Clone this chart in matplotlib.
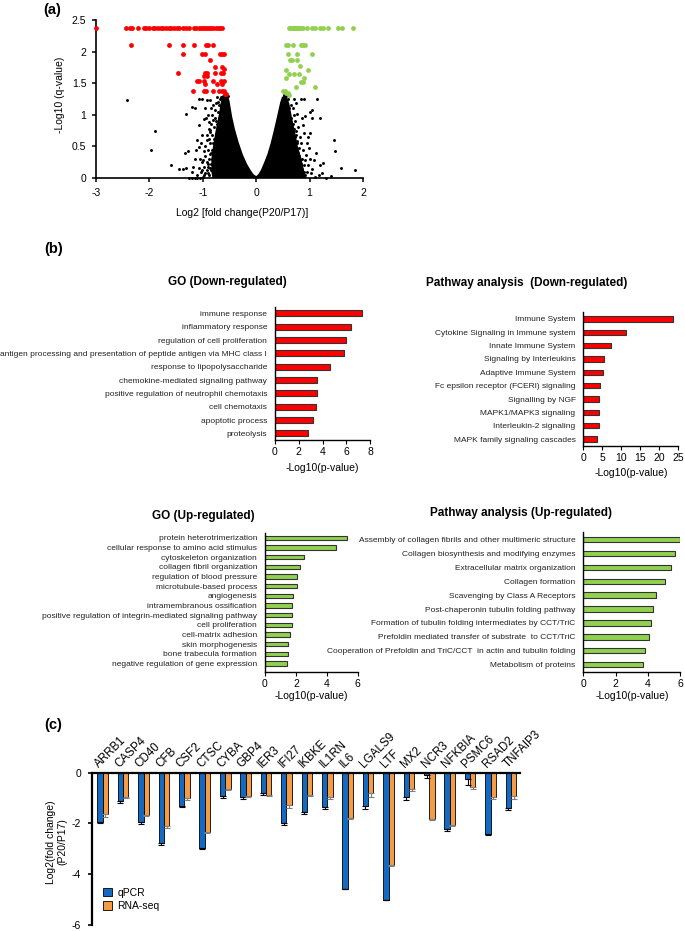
import matplotlib.pyplot as plt
from matplotlib.patches import Patch
from matplotlib.transforms import blended_transform_factory

W, H = 685, 931

# ---------------- (a) volcano ----------------
red_points = [
    (-3.0, 2.37), (-2.44, 2.37), (-2.36, 2.37), (-2.32, 2.37), (-2.21, 2.37), (-2.11, 2.37),
    (-2.06, 2.37), (-2.01, 2.37), (-1.94, 2.37), (-1.89, 2.37), (-1.84, 2.37), (-1.79, 2.37),
    (-1.74, 2.37), (-1.69, 2.37), (-1.64, 2.37), (-1.60, 2.37), (-1.54, 2.37), (-1.49, 2.37),
    (-1.44, 2.37), (-1.38, 2.37), (-1.32, 2.37), (-1.26, 2.37), (-1.17, 2.37), (-1.12, 2.37),
    (-1.08, 2.37), (-1.04, 2.37), (-1.00, 2.37), (-0.96, 2.37), (-0.92, 2.37), (-0.88, 2.37),
    (-0.84, 2.37), (-0.80, 2.37), (-0.76, 2.37), (-0.72, 2.37), (-0.68, 2.37), (-0.64, 2.37),
    (-2.34, 2.11), (-1.64, 2.11), (-1.37, 2.11), (-1.17, 2.11), (-0.94, 2.11), (-0.90, 2.11),
    (-0.80, 2.11),
    (-1.38, 1.96), (-1.02, 1.96), (-0.96, 1.96), (-0.67, 1.96), (-0.64, 1.96), (-0.60, 1.96),
    (-0.86, 1.86), (-0.77, 1.76), (-0.64, 1.76), (-0.60, 1.72),
    (-1.46, 1.66), (-0.95, 1.66), (-0.92, 1.66), (-0.78, 1.66), (-0.65, 1.66), (-0.62, 1.66),
    (-0.98, 1.62), (-0.92, 1.62),
    (-1.10, 1.53), (-1.07, 1.53), (-0.98, 1.53), (-0.81, 1.53), (-0.65, 1.53), (-0.61, 1.53),
    (-0.96, 1.48), (-0.73, 1.48), (-0.64, 1.48),
    (-1.19, 1.37), (-0.98, 1.37), (-0.94, 1.37), (-0.80, 1.37), (-0.70, 1.37), (-0.64, 1.37),
    (-0.61, 1.37), (-0.59, 1.33), (-0.56, 1.33),
]

green_points = [
    (0.62, 2.37), (0.64, 2.37), (0.66, 2.37), (0.68, 2.37), (0.70, 2.37), (0.72, 2.37),
    (0.74, 2.37), (0.76, 2.37), (0.78, 2.37), (0.80, 2.37), (0.82, 2.37), (0.84, 2.37),
    (0.87, 2.37), (0.95, 2.37), (1.05, 2.37), (1.11, 2.37), (1.20, 2.37), (1.26, 2.37),
    (1.34, 2.37), (1.54, 2.37), (1.60, 2.37), (1.81, 2.37),
    (0.56, 2.11), (0.59, 2.11), (0.68, 2.11), (0.84, 2.11), (0.88, 2.11), (0.91, 2.11),
    (0.59, 1.96), (0.77, 1.96), (1.05, 1.96),
    (0.63, 1.86), (0.67, 1.86), (0.77, 1.86), (0.82, 1.78),
    (0.55, 1.71), (0.97, 1.71), (0.62, 1.64), (0.70, 1.64), (0.80, 1.64),
    (0.55, 1.58), (0.90, 1.58), (0.84, 1.52), (0.87, 1.52),
    (0.74, 1.44), (1.10, 1.44), (0.50, 1.38), (0.53, 1.38), (0.56, 1.34), (0.59, 1.34),
    (0.61, 1.31),
]

black_points = [
    (-2.42, 1.24), (-1.97, 0.45), (-1.90, 0.75), (-1.60, 0.21), (-1.33, 0.40), (-1.32, 1.02),
    (-1.27, 0.43), (-1.20, 1.13), (-1.18, 0.18), (-1.14, 1.10), (-1.12, 0.44), (-1.07, 1.25),
    (-1.07, 0.84), (-1.07, 0.49), (-1.04, 0.56), (-1.01, 1.25), (-1.01, 0.68), (-0.99, 0.28),
    (-0.98, 0.94), (-0.95, 1.10), (-0.92, 1.24), (-0.92, 0.60), (-0.92, 0.26), (-0.89, 0.89),
    (-0.86, 1.24), (-0.86, 0.76), (-0.86, 0.72), (-0.83, 1.00), (-0.80, 1.15), (-0.80, 0.16),
    (-0.77, 0.58), (-0.74, 1.28), (-0.75, 1.18), (-1.07, 0.16), (-1.01, 0.26), (-1.04, 0.10),
    (-1.32, 0.16), (-1.38, 0.15), (-1.44, 0.15), (-1.25, 0.0), (-1.20, 0.0), (-1.15, 0.0),
    (-1.10, 0.0), (-1.05, 0.0), (-1.00, 0.02), (-1.10, 0.05), (-0.96, 0.35), (-0.90, 0.45),
    (-0.95, 0.50), (-0.88, 0.62), (-0.84, 0.85), (-0.90, 1.00), (-0.82, 0.30), (-0.85, 0.12),
    (-0.90, 0.18), (-0.78, 0.95), (-0.70, 1.15), (-0.68, 1.25), (-0.72, 1.05), (-0.84, 0.40),
    (-0.87, 0.55), (-0.83, 0.68), (-0.79, 0.80), (-0.76, 0.90), (-0.88, 0.05), (-0.95, 0.08),
    (-0.65, 1.28), (-0.62, 1.30), (-0.58, 1.32), (-0.53, 1.29),
    (-0.70, 0.95), (-0.73, 0.85), (-0.76, 0.70), (-0.79, 0.62), (-0.81, 0.55), (-0.83, 0.45),
    (-0.86, 0.38), (-0.88, 0.30), (-0.91, 0.22), (-0.93, 0.12), (-0.97, 0.05), (-0.72, 0.78),
    (-0.74, 0.62), (-0.77, 0.50), (-0.80, 0.40), (-0.84, 0.22), (-0.86, 0.16), (-0.90, 0.08),
    (-0.98, 0.18), (-1.02, 0.12), (-1.05, 0.30), (-0.97, 0.42), (-0.93, 0.68), (-0.89, 0.78),
    (-0.81, 0.92), (-0.77, 1.08), (-0.71, 1.20), (-0.66, 1.10), (-0.69, 0.88), (-0.94, 0.95),
    (-1.10, 0.60), (-1.15, 0.30), (-1.20, 0.10), (-0.84, 1.10),
    (0.84, 1.25), (0.90, 1.25), (1.14, 1.25), (1.01, 1.05), (1.05, 1.07), (0.91, 0.98),
    (1.19, 0.95), (1.04, 0.95), (0.88, 0.84), (0.90, 0.71), (1.01, 0.71), (1.45, 0.60),
    (1.48, 0.42), (1.26, 0.23), (1.08, 0.28), (1.58, 0.16), (1.85, 0.12), (1.23, 0.08),
    (1.41, 0.03), (0.95, 0.10), (0.84, 0.18), (0.71, 1.00), (0.65, 1.16), (0.73, 0.90),
    (0.77, 0.58), (0.73, 0.37), (0.80, 0.47), (0.93, 0.37), (0.99, 0.47), (1.05, 0.15),
    (1.17, 0.05), (0.70, 1.25), (0.68, 1.10), (0.75, 0.75), (0.82, 0.65), (0.85, 0.30),
    (0.90, 0.20), (0.78, 0.25), (1.00, 0.30), (0.95, 0.55), (1.10, 0.02), (1.30, 0.0),
    (0.88, 0.05), (0.76, 0.10), (0.72, 0.65), (0.66, 0.80), (0.52, 1.32), (0.56, 1.30),
    (0.62, 1.10), (0.66, 0.95), (0.69, 0.85), (0.71, 0.78), (0.74, 0.68), (0.76, 0.55),
    (0.78, 0.40), (0.81, 0.35), (0.83, 0.22), (0.86, 0.14), (0.89, 0.10), (0.92, 0.04),
    (0.79, 0.80), (0.84, 0.55), (0.87, 0.45), (0.92, 0.28), (0.97, 0.20), (1.02, 0.08),
    (0.97, 0.65), (0.86, 0.95), (0.77, 1.02), (0.74, 1.18), (0.60, 1.25), (0.82, 0.12),
    (1.12, 0.40), (1.20, 0.20),
]

# dense core of the volcano (outline of the solid black region)
cloud_x = [-0.52, -0.57, -0.62, -0.66, -0.70, -0.76, -0.81, -0.84, -0.84, -0.82,
           0.94, 0.90, 0.85, 0.78, 0.73, 0.66, 0.62, 0.58, 0.53, 0.48, 0.45,
           0.41, 0.37, 0.32, 0.27, 0.21, 0.15, 0.09, 0.04, 0.0,
           -0.05, -0.10, -0.17, -0.25, -0.33, -0.40, -0.45, -0.48, -0.50]
cloud_y = [1.28, 1.31, 1.29, 1.22, 1.00, 0.75, 0.50, 0.30, 0.10, 0.0,
           0.0, 0.10, 0.30, 0.50, 0.72, 1.00, 1.18, 1.27, 1.31, 1.28, 1.20,
           1.05, 0.90, 0.72, 0.55, 0.38, 0.25, 0.13, 0.06, 0.03,
           0.06, 0.12, 0.22, 0.37, 0.57, 0.78, 0.97, 1.12, 1.22]

# ---------------- (b) enrichment ----------------
go_down_terms = ["immune response", "inflammatory response", "regulation of cell proliferation",
                 "antigen processing and presentation of peptide antigen via MHC class I",
                 "response to lipopolysaccharide", "chemokine-mediated signaling pathway",
                 "positive regulation of neutrophil chemotaxis", "cell chemotaxis",
                 "apoptotic process", "proteolysis"]
go_down_vals = [7.3, 6.4, 5.96, 5.85, 4.6, 3.53, 3.53, 3.42, 3.2, 2.74]

pw_down_terms = ["Immune System", "Cytokine Signaling in Immune system", "Innate Immune System",
                 "Signaling by Interleukins", "Adaptive Immune System",
                 "Fc epsilon receptor (FCERI) signaling", "Signalling by NGF",
                 "MAPK1/MAPK3 signaling", "Interleukin-2 signaling",
                 "MAPK family signaling cascades"]
pw_down_vals = [23.7, 11.2, 7.3, 5.5, 5.1, 4.4, 4.0, 4.0, 4.0, 3.7]

go_up_terms = ["protein heterotrimerization", "cellular response to amino acid stimulus",
               "cytoskeleton organization", "collagen fibril organization",
               "regulation of blood pressure", "microtubule-based process", "angiogenesis",
               "intramembranous ossification",
               "positive regulation of integrin-mediated signaling pathway",
               "cell proliferation", "cell-matrix adhesion", "skin morphogenesis",
               "bone trabecula formation", "negative regulation of gene expression"]
go_up_vals = [5.32, 4.62, 2.5, 2.24, 2.06, 2.06, 1.78, 1.72, 1.72, 1.72, 1.63, 1.52, 1.52, 1.45]

pw_up_terms = ["Assembly of collagen fibrils and other multimeric structure",
               "Collagen biosynthesis and modifying enzymes", "Extracellular matrix organization",
               "Collagen formation", "Scavenging by Class A Receptors",
               "Post-chaperonin tubulin folding pathway",
               "Formation of tubulin folding intermediates by CCT/TriC",
               "Prefoldin mediated transfer of substrate  to CCT/TriC",
               "Cooperation of Prefoldin and TriC/CCT  in actin and tubulin folding",
               "Metabolism of proteins"]
pw_up_vals = [5.98, 5.67, 5.4, 5.07, 4.5, 4.33, 4.17, 4.08, 3.82, 3.71]

# ---------------- (c) qPCR vs RNA-seq ----------------
genes = ["ARRB1", "CASP4", "CD40", "CFB", "CSF2", "CTSC", "CYBA", "GBP4", "IER3", "IFI27",
         "IKBKE", "IL1RN", "IL6", "LGALS9", "LTF", "MX2", "NCR3", "NFKBIA", "PSMC6", "RSAD2",
         "TNFAIP3"]
qpcr = [-1.95, -1.1, -1.95, -2.75, -1.3, -2.95, -0.93, -0.95, -0.8, -2.0, -1.56, -1.36, -4.57,
        -1.3, -5.0, -0.96, -0.1, -2.23, -0.26, -2.4, -1.39]
qpcr_err = [0.05, 0.08, 0.07, 0.08, 0.06, 0.04, 0.07, 0.07, 0.08, 0.06, 0.06, 0.07, 0.03,
            0.12, 0.03, 0.13, 0.12, 0.06, 0.23, 0.04, 0.08]
rnaseq = [-1.62, -0.95, -1.65, -2.1, -1.0, -2.33, -0.63, -0.9, -0.87, -1.27, -0.87, -0.97, -1.79,
          -0.8, -3.62, -0.65, -1.82, -2.06, -0.58, -0.96, -0.9]
rnaseq_err = [0.12, 0.05, 0.04, 0.06, 0.08, 0.03, 0.05, 0.05, 0.06, 0.12, 0.05, 0.08, 0.05,
              0.16, 0.05, 0.08, 0.04, 0.04, 0.05, 0.06, 0.12]

plt.rcParams['font.family'] = ['Liberation Sans', 'DejaVu Sans']
plt.rcParams['axes.unicode_minus'] = False


def rect(l, t, r, b):
    # pixel box -> figure fraction
    return [l / W, 1 - b / H, (r - l) / W, (b - t) / H]


def ftext(x, y, s, **kw):
    fig.text(x / W, 1 - y / H, s, **kw)


fig = plt.figure(figsize=(W / 100, H / 100), dpi=100)

# ---- (a) ----
ax = fig.add_axes(rect(96, 20, 363, 178))
ax.fill(cloud_x, cloud_y, color='black', lw=0)
bx, by = zip(*black_points)
ax.scatter(bx, by, s=4.5, c='black', lw=0, clip_on=False)
rx, ry = zip(*red_points)
ax.scatter(rx, ry, s=12, c='#ff0000', lw=0, clip_on=False, zorder=3)
gx, gy = zip(*green_points)
ax.scatter(gx, gy, s=12, c='#92d050', lw=0, clip_on=False, zorder=3)
ax.set_xlim(-3, 2)
ax.set_ylim(0, 2.5)
ax.set_xticks([-3, -2, -1, 0, 1, 2])
ax.set_yticks([0, 0.5, 1, 1.5, 2, 2.5])
ax.set_yticklabels(['0', '0.5', '1', '1.5', '2', '2.5'])
ax.spines[['top', 'right']].set_visible(False)
for s in ['left', 'bottom']:
    ax.spines[s].set_linewidth(1.2)
ax.tick_params(direction='out', length=3, width=1.1, labelsize=7.5, pad=4)
ftext(60, 95, '-Log10 (q-value)', rotation=90, ha='center', va='center', fontsize=7.5)
ftext(242, 213, 'Log2 [fold change(P20/P17)]', ha='center', va='center', fontsize=7.5)
ftext(43, 10, '(a)', fontweight='bold', fontsize=10.5, va='center')
ftext(44, 249, '(b)', fontweight='bold', fontsize=10.5, va='center')
ftext(44, 725, '(c)', fontweight='bold', fontsize=10.5, va='center')


def enrich(box, terms, vals, color, xmax, xticks, title, title_xy, xlabel_y, bar_h, ylim_bottom):
    a = fig.add_axes(rect(*box))
    n = len(terms)
    a.barh(range(n), vals, height=bar_h, color=color, edgecolor='#333333', linewidth=0.8)
    a.set_ylim(ylim_bottom, -0.5)
    a.set_xlim(0, xmax)
    a.set_xticks(xticks)
    a.set_yticks(range(n))
    a.set_yticklabels(terms, fontsize=6.0, color='#222222')
    a.spines[['top', 'right']].set_visible(False)
    a.spines['left'].set_linewidth(1.0)
    a.spines['bottom'].set_linewidth(1.0)
    a.tick_params(axis='y', length=0, pad=5.6)
    a.tick_params(axis='x', direction='out', length=3, labelsize=7.5, pad=2)
    ftext(title_xy[0], title_xy[1], title, fontweight='bold', fontsize=8.5,
          ha='center', va='center')
    l, r = box[0], box[2]
    ftext((l + r) / 2, xlabel_y, '-Log10(p-value)', ha='center', va='center', fontsize=7.5)


enrich((275, 306.7, 370, 440), go_down_terms, go_down_vals, '#ff0000', 8, [0, 2, 4, 6, 8],
       'GO (Down-regulated)', (227, 282), 468, 0.43, 9.5)
enrich((583.3, 312.3, 678.3, 445.7), pw_down_terms, pw_down_vals, '#ff0000', 25,
       [0, 5, 10, 15, 20, 25], 'Pathway analysis  (Down-regulated)', (527, 283), 473, 0.4, 9.5)
enrich((265, 533, 357.7, 671.7), go_up_terms, go_up_vals, '#92d050', 6, [0, 2, 4, 6],
       'GO (Up-regulated)', (203, 516), 696, 0.42, 13.85)
enrich((583.3, 532.4, 680.3, 671.7), pw_up_terms, pw_up_vals, '#92d050', 6, [0, 2, 4, 6],
       'Pathway analysis (Up-regulated)', (521, 513), 696, 0.38, 9.5)

# ---- (c) ----
ax = fig.add_axes(rect(92.3, 772.7, 520, 925))
pos = list(range(len(genes)))
zeros = [0] * len(genes)
ax.bar([p - 0.13 for p in pos], qpcr, width=0.26, color='#1469c3', edgecolor='black',
       linewidth=0.6, yerr=[qpcr_err, zeros],
       error_kw=dict(ecolor='black', elinewidth=0.8, capsize=2, capthick=0.8))
ax.bar([p + 0.13 for p in pos], rnaseq, width=0.26, color='#f59b46', edgecolor='black',
       linewidth=0.6, yerr=[rnaseq_err, zeros],
       error_kw=dict(ecolor='#808080', elinewidth=0.8, capsize=2, capthick=0.8))
ax.set_xlim(-0.51, 20.44)
ax.set_ylim(-6, 0)
ax.set_yticks([0, -2, -4, -6])
ax.set_yticklabels(['0', '-2', '-4', '-6'])
ax.set_xticks([])
ax.spines[['bottom', 'right']].set_visible(False)
ax.spines['top'].set_linewidth(1.6)
ax.spines['left'].set_linewidth(1.6)
ax.tick_params(axis='y', direction='out', length=3, width=1.2, labelsize=7.5, pad=5)
trans = blended_transform_factory(ax.transData, ax.transAxes)
for p, g in zip(pos, genes):
    ax.text(p - 0.08, 1.02, g, transform=trans, rotation=45, rotation_mode='anchor',
            ha='left', va='bottom', fontsize=8.4)
handles = [Patch(facecolor='#1469c3', edgecolor='black', linewidth=0.6, label='qPCR'),
           Patch(facecolor='#f59b46', edgecolor='black', linewidth=0.6, label='RNA-seq')]
ax.legend(handles=handles, loc='lower left', bbox_to_anchor=(0.025, 0.09), frameon=False,
          fontsize=7.5, handlelength=0.9, handleheight=0.9, handletextpad=0.5,
          borderaxespad=0, borderpad=0, labelspacing=0.35)
ftext(57, 842, 'Log2(fold change)\n(P20/P17)', rotation=90, ha='center', va='center',
      fontsize=7.5, multialignment='center')

fig.savefig('out.png', dpi=100)
